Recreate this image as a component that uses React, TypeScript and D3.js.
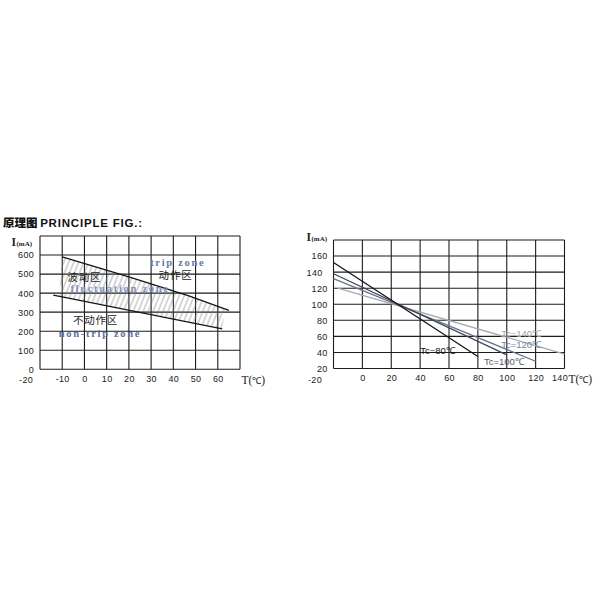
import React, { useEffect, useRef } from 'react';
import * as d3 from 'd3';

// ---- left chart: principle fig (I vs T, trip / non-trip zones) ----
const leftGridT = [-20, -10, 0, 10, 20, 30, 40, 50, 60, 70];
const leftGridI = [0, 100, 200, 300, 400, 500, 600, 700];
const leftTempTicks = [-10, 0, 10, 20, 30, 40, 50, 60];
const leftCurrentTicks = [0, 100, 200, 300, 400, 500, 600];
const tripLineT = [-10, 20, 47, 65];
const tripLineI = [590, 485, 385, 310];
const nonTripLineT = [-14, 62];
const nonTripLineI = [390, 212];
const bandT = [-10, 20, 47, 63.5, 62, -11.5];
const bandI = [590, 485, 385, 315, 216, 384];

// zone labels
const zoneCnText = ['波动区', '动作区', '不动作区'];
const zoneCnT = [0, 41, 5];
const zoneCnI = [462, 472, 236];
const zoneEnText = ['fluctuation zone', 'trip zone', 'non-trip zone'];
const zoneEnT = [16, 42, 7];
const zoneEnI = [404, 542, 168];
const zoneEnColor = ['#7f90bc', '#6b79a2', '#5f6e9e'];

// ---- right chart: curves for different Tc ----
const rightGridT = [-20, 0, 20, 40, 60, 80, 100, 120, 140];
const rightGridI = [20, 40, 60, 80, 100, 120, 140, 160, 180];
const rightTempTicks = [0, 20, 40, 60, 80, 100, 120, 140];
const rightCurrentTicks = [20, 40, 60, 80, 100, 120, 140, 160];
const tcNames = ['Tc=80℃', 'Tc=100℃', 'Tc=120℃', 'Tc=140℃'];
const tcStartT = [-20, -20, -20, -17];
const tcStartI = [152, 138, 132, 120];
const tcEndT = [80, 100, 120, 140];
const tcEndI = [35, 37, 29, 38];
const tcLineColor = ['#151515', '#3e4452', '#67738e', '#a6a9b0'];
const tcLabelColor = ['#151515', '#555b68', '#7582a0', '#a0a4ab'];
const tcLabelT = [52, 98, 110, 110];
const tcLabelI = [43, 29, 50, 63];

const SANS = '"Liberation Sans", Arial, sans-serif';
const SERIF = '"Liberation Serif", "Times New Roman", serif';
const CJK = '"Noto Sans CJK SC", sans-serif';
const TICK_SIZE = 9;

function drawFrame(
  g: d3.Selection<SVGGElement, unknown, null, undefined>,
  x: d3.ScaleLinear<number, number>,
  y: d3.ScaleLinear<number, number>,
  gridT: number[],
  gridI: number[],
  tTicks: number[],
  iTicks: number[]
) {
  const [x0, x1] = x.range();
  const [y0, y1] = y.range();

  g.append('g')
    .selectAll('line')
    .data(gridT)
    .enter()
    .append('line')
    .attr('x1', d => x(d)).attr('x2', d => x(d))
    .attr('y1', y0).attr('y2', y1)
    .attr('stroke', '#1c1c1c')
    .attr('stroke-width', 1.1);

  g.append('g')
    .selectAll('line')
    .data(gridI)
    .enter()
    .append('line')
    .attr('x1', x0).attr('x2', x1)
    .attr('y1', d => y(d)).attr('y2', d => y(d))
    .attr('stroke', '#1c1c1c')
    .attr('stroke-width', 1.1);

  const yAxis = d3.axisLeft(y).tickValues(iTicks).tickSize(0).tickPadding(6).tickFormat(d => `${d}`);
  g.append('g')
    .attr('transform', `translate(${x0},0)`)
    .call(yAxis)
    .call(a => a.select('.domain').remove())
    .attr('font-family', SANS)
    .attr('font-size', TICK_SIZE)
    .selectAll('text')
    .attr('fill', '#222')
    .attr('letter-spacing', 0.3);

  const xAxis = d3.axisBottom(x).tickValues(tTicks).tickSize(0).tickPadding(6).tickFormat(d => `${d}`);
  g.append('g')
    .attr('transform', `translate(0,${y0})`)
    .call(xAxis)
    .call(a => a.select('.domain').remove())
    .attr('font-family', SANS)
    .attr('font-size', TICK_SIZE)
    .selectAll('text')
    .attr('fill', '#222')
    .attr('letter-spacing', 0.3);
}

function unitLabels(
  g: d3.Selection<SVGGElement, unknown, null, undefined>,
  ix: number, iy: number, tx: number, ty: number
) {
  const il = g.append('text')
    .attr('x', ix).attr('y', iy)
    .attr('font-family', SERIF)
    .attr('font-weight', 'bold')
    .attr('fill', '#222');
  il.append('tspan').attr('font-size', 11.5).text('I');
  il.append('tspan').attr('font-size', 7).attr('dx', 0.5).text('(mA)');

  const tl = g.append('text')
    .attr('x', tx).attr('y', ty)
    .attr('font-family', SERIF)
    .attr('fill', '#222');
  tl.append('tspan').attr('font-size', 11.5).text('T(');
  tl.append('tspan').attr('font-size', 9.5).text('℃');
  tl.append('tspan').attr('font-size', 11.5).text(')');
}

export default function App() {
  const svgRef = useRef<SVGSVGElement>(null);

  useEffect(() => {
    if (!svgRef.current) return;
    const svg = d3.select(svgRef.current);
    svg.selectAll('*').remove();

    // Title
    const title = svg.append('text')
      .attr('x', 3).attr('y', 226.5)
      .attr('font-weight', 'bold')
      .attr('fill', '#111');
    title.append('tspan').attr('font-family', CJK).attr('font-size', 11.5).attr('font-weight', 900).text('原理图 ');
    title.append('tspan').attr('font-family', SANS).attr('font-size', 11.5).attr('letter-spacing', 0.8).text('PRINCIPLE FIG.:');

    // hatch pattern
    const defs = svg.append('defs');
    defs.append('pattern')
      .attr('id', 'hatch')
      .attr('patternUnits', 'userSpaceOnUse')
      .attr('width', 4.6).attr('height', 10)
      .attr('patternTransform', 'rotate(22)')
      .append('line')
      .attr('x1', 1).attr('x2', 1).attr('y1', 0).attr('y2', 10)
      .attr('stroke', '#808080')
      .attr('stroke-width', 0.65);

    // ---------- Left chart ----------
    const gl = svg.append('g');
    const xL = d3.scaleLinear().domain([-20, 70]).range([40, 240]);
    const yL = d3.scaleLinear().domain([0, 700]).range([369.3, 236]);
    drawFrame(gl, xL, yL, leftGridT, leftGridI, leftTempTicks, leftCurrentTicks);

    gl.append('text')
      .attr('x', 33).attr('y', yL(0) + 14)
      .attr('text-anchor', 'end')
      .attr('font-family', SANS).attr('font-size', TICK_SIZE).attr('fill', '#222')
      .attr('letter-spacing', 0.3)
      .text('-20');

    const band = bandT.map((t, i) => [xL(t), yL(bandI[i])] as [number, number]);
    gl.append('path')
      .attr('d', d3.line()(band) + 'Z')
      .attr('fill', 'url(#hatch)')
      .attr('stroke', 'none');

    gl.append('path')
      .attr('d', d3.line<number>().x(t => xL(t)).y((t, i) => yL(tripLineI[i]))(tripLineT))
      .attr('fill', 'none').attr('stroke', '#151515').attr('stroke-width', 1.3);
    gl.append('path')
      .attr('d', d3.line<number>().x(t => xL(t)).y((t, i) => yL(nonTripLineI[i]))(nonTripLineT))
      .attr('fill', 'none').attr('stroke', '#151515').attr('stroke-width', 1.3);

    gl.append('g')
      .selectAll('text')
      .data(zoneCnText)
      .enter()
      .append('text')
      .attr('x', (d, i) => xL(zoneCnT[i]))
      .attr('y', (d, i) => yL(zoneCnI[i]))
      .attr('text-anchor', 'middle')
      .attr('font-family', CJK).attr('font-size', 10.5)
      .attr('letter-spacing', 0.8)
      .attr('fill', '#1e1e1e')
      .text(d => d);

    gl.append('g')
      .selectAll('text')
      .data(zoneEnText)
      .enter()
      .append('text')
      .attr('x', (d, i) => xL(zoneEnT[i]))
      .attr('y', (d, i) => yL(zoneEnI[i]))
      .attr('text-anchor', 'middle')
      .attr('font-family', SERIF).attr('font-size', 10.5).attr('font-weight', 'bold')
      .attr('letter-spacing', 1.7)
      .attr('fill', (d, i) => zoneEnColor[i])
      .text(d => d);

    unitLabels(gl, 11.5, 245.5, 241.5, 384);

    // ---------- Right chart ----------
    const gr = svg.append('g');
    const xR = d3.scaleLinear().domain([-20, 140]).range([333.5, 564.5]);
    const yR = d3.scaleLinear().domain([20, 180]).range([368.5, 240]);
    drawFrame(gr, xR, yR, rightGridT, rightGridI, rightTempTicks, rightCurrentTicks);

    // last tick label sits just left of the unit label
    gr.selectAll('.tick text').filter((d: any) => d === 140).attr('dx', -5);

    gr.append('text')
      .attr('x', 315).attr('y', yR(20) + 14)
      .attr('text-anchor', 'middle')
      .attr('font-family', SANS).attr('font-size', TICK_SIZE).attr('fill', '#222')
      .attr('letter-spacing', 0.3)
      .text('-20');

    // draw light lines first so the dark ones sit on top
    const order = [3, 2, 1, 0];
    gr.append('g')
      .selectAll('line')
      .data(order)
      .enter()
      .append('line')
      .attr('x1', k => xR(tcStartT[k])).attr('y1', k => yR(tcStartI[k]))
      .attr('x2', k => xR(tcEndT[k])).attr('y2', k => yR(tcEndI[k]))
      .attr('stroke', k => tcLineColor[k])
      .attr('stroke-width', 1.3);

    gr.append('g')
      .selectAll('text')
      .data(tcNames)
      .enter()
      .append('text')
      .attr('x', (d, i) => xR(tcLabelT[i]))
      .attr('y', (d, i) => yR(tcLabelI[i]) + 3.5)
      .attr('text-anchor', 'middle')
      .attr('font-family', SANS).attr('font-size', 9.5)
      .attr('fill', (d, i) => tcLabelColor[i])
      .text(d => d);

    unitLabels(gr, 306.5, 241, 568.5, 383);
  }, []);

  return (
    <svg
      ref={svgRef}
      width={600}
      height={600}
      style={{ position: 'absolute', left: 0, top: 0, background: '#fff' }}
    />
  );
}
